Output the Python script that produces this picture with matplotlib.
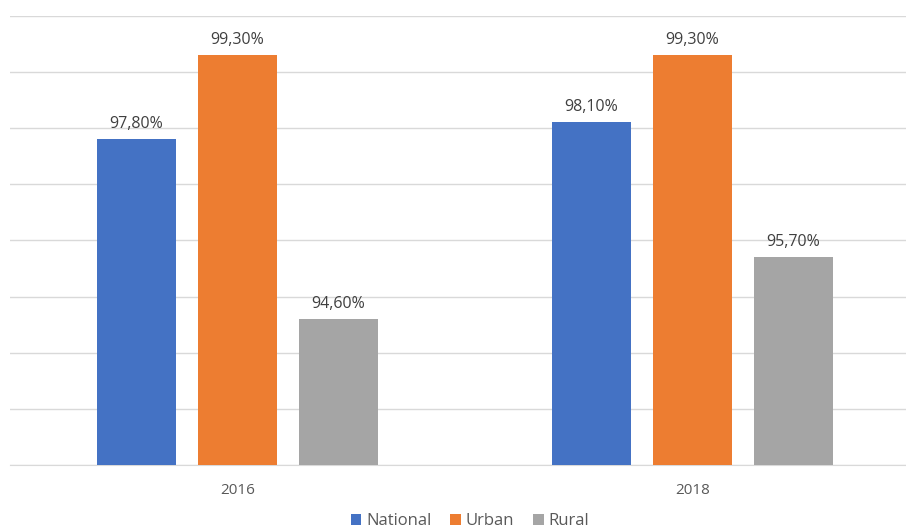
import matplotlib
matplotlib.use('Agg')
import matplotlib.pyplot as plt
import numpy as np

plt.rcParams['font.family'] = ['Open Sans', 'DejaVu Sans']

years = ['2016', '2018']
series = ['National', 'Urban', 'Rural']
national = [97.8, 98.1]
urban = [99.3, 99.3]
rural = [94.6, 95.7]
colors = ['#4472C4', '#ED7D31', '#A5A5A5']

fig = plt.figure(figsize=(9.06, 5.30), dpi=100)
ax = fig.add_axes([10 / 906, 1 - 465 / 530, 910 / 906, (465 - 15.8) / 530])

x = np.arange(len(years))
width = 0.174
step = 0.222
for i, (name, vals, c) in enumerate(zip(series, [national, urban, rural], colors)):
    pos = x + (i - 1) * step
    ax.bar(pos, np.array(vals) - 92, bottom=92, width=width, color=c, label=name, zorder=3)
    for p, v in zip(pos, vals):
        ax.text(p, v + 0.13, f'{v:.2f}'.replace('.', ',') + '%', ha='center', va='bottom',
                fontsize=11.5, color='#404040')

ax.set_xlim(-0.5, 1.5)
ax.set_ylim(92, 100)
ax.set_yticks(np.arange(92, 100.5, 1))
ax.yaxis.grid(True, color='#D9D9D9', linewidth=1)
ax.set_axisbelow(True)
ax.tick_params(axis='y', left=False, labelleft=False)
ax.tick_params(axis='x', length=0, pad=13, labelsize=11, labelcolor='#595959')
ax.set_xticks(x)
ax.set_xticklabels(years)
for s in ['top', 'right', 'left']:
    ax.spines[s].set_visible(False)
ax.spines['bottom'].set_color('#D9D9D9')

fig.legend(loc='center', bbox_to_anchor=(470 / 906, 1 - 521 / 530), ncol=3, frameon=False,
           fontsize=12, handlelength=0.65, handleheight=0.65, handletextpad=0.3,
           columnspacing=1.1, labelcolor='#595959')

plt.savefig('out.png', dpi=100)
